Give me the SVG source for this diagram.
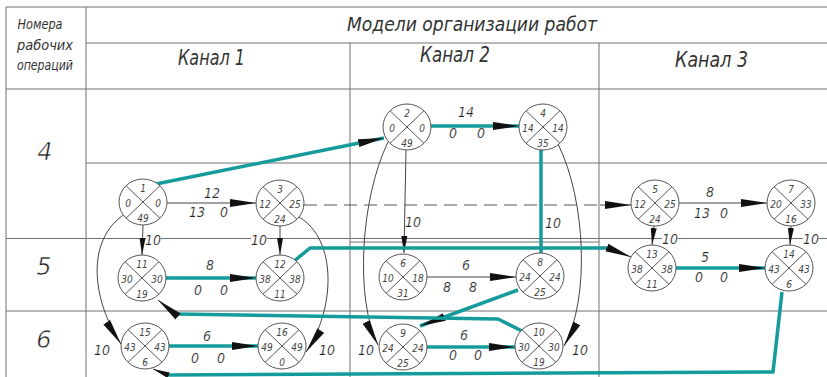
<svg xmlns="http://www.w3.org/2000/svg" width="827" height="377" viewBox="0 0 827 377">
<style>
text{font-family:"Liberation Sans Narrow","DejaVu Sans Condensed","Liberation Sans",sans-serif;font-style:italic;fill:#333}
.lt{font-family:"DejaVu Sans","Liberation Sans",sans-serif;font-weight:200}
.grid line{stroke:#707070;stroke-width:1}
.hd{font-size:14px}
.ttl{font-size:20px}
.ch{font-size:22px}
.row{font-size:24px;text-anchor:middle;fill:#222;stroke:#fff;stroke-width:0.6px}
.nd ellipse{fill:#fff;stroke:#555;stroke-width:1}
.nd line{stroke:#555;stroke-width:1}
.nd text{font-size:10px;text-anchor:middle;fill:#444}
.el{font-size:14px;text-anchor:middle;fill:#222;stroke:#fff;stroke-width:0.2px}
.gap{fill:#fff}
.thin{fill:none;stroke:#444;stroke-width:1}
.teal{fill:none;stroke:#159b9b;stroke-width:3.5;stroke-linejoin:round}
.dash{fill:none;stroke:#555;stroke-width:1;stroke-dasharray:13 7}
</style>
<defs>
<marker id="arr" markerUnits="userSpaceOnUse" markerWidth="28" markerHeight="10" refX="26" refY="4.5" orient="auto"><path d="M0,0.5 L26,4.5 L0,8.5 Z" fill="#111"/></marker>
<marker id="arrS" markerUnits="userSpaceOnUse" markerWidth="18" markerHeight="8" refX="17" refY="3.5" orient="auto"><path d="M0,0.5 L17,3.5 L0,6.5 Z" fill="#111"/></marker>
</defs>
<rect width="827" height="377" fill="#fff"/>
<g class="grid" id="grid">
<line x1="6" y1="7" x2="827" y2="7"/>
<line x1="6" y1="7" x2="6" y2="377"/>
<line x1="86" y1="7" x2="86" y2="377"/>
<line x1="86" y1="43" x2="827" y2="43"/>
<line x1="6" y1="89" x2="827" y2="89"/>
<line x1="350" y1="43" x2="350" y2="377"/>
<line x1="599" y1="43" x2="599" y2="377"/>
<line x1="86" y1="163" x2="827" y2="163"/>
<line x1="6" y1="238.5" x2="827" y2="238.5"/>
<line x1="350" y1="242" x2="599" y2="242"/>
<line x1="6" y1="311" x2="827" y2="311"/>
</g>
<g id="header">
<text class="hd lt" x="40" y="29" text-anchor="middle" textLength="45" lengthAdjust="spacingAndGlyphs">Номера</text>
<text class="hd lt" x="45" y="50" text-anchor="middle" textLength="56" lengthAdjust="spacingAndGlyphs">рабочих</text>
<text class="hd lt" x="45" y="70" text-anchor="middle" textLength="56" lengthAdjust="spacingAndGlyphs">операций</text>
<text class="ttl lt" x="347" y="31" textLength="250" lengthAdjust="spacingAndGlyphs">Модели организации работ</text>
<text class="ch lt" x="178" y="65" textLength="67" lengthAdjust="spacingAndGlyphs">Канал 1</text>
<text class="ch lt" x="420" y="62" textLength="70" lengthAdjust="spacingAndGlyphs">Канал 2</text>
<text class="ch lt" x="675" y="67" textLength="73" lengthAdjust="spacingAndGlyphs">Канал 3</text>
<text class="row lt" x="45" y="160">4</text>
<text class="row lt" x="44" y="275">5</text>
<text class="row lt" x="44" y="348">6</text>
</g>
<g id="connectors">
<path class="thin" d="M167,203 L256,203" marker-end="url(#arr)"/>
<path class="thin" d="M143,225 L142,255" marker-end="url(#arrS)"/>
<path class="thin" d="M280,226 L280,255" marker-end="url(#arrS)"/>
<path class="teal" d="M166,278 L256,278" marker-end="url(#arr)"/>
<path class="teal" d="M169,346 L258,346" marker-end="url(#arr)"/>
<path class="thin" d="M125,214 C85,240 92,300 121,344" marker-end="url(#arr)"/>
<path class="thin" d="M299,217 C338,240 335,310 306,352" marker-end="url(#arr)"/>
<path class="teal" d="M156,184 L384,138" marker-end="url(#arr)"/>
<path class="teal" d="M431,126 L519,126" marker-end="url(#arr)"/>
<path class="thin" d="M406,150 L404,253" marker-end="url(#arrS)"/>
<path class="thin" d="M388,142 C360,200 355,300 378,345" marker-end="url(#arr)"/>
<path class="teal" d="M541,150 L541,253"/>
<path class="thin" d="M558,144 C586,200 590,300 564,346" marker-end="url(#arr)"/>
<path class="thin" d="M427,277 L516,277" marker-end="url(#arr)"/>
<path class="teal" d="M518,290 L420,326" marker-end="url(#arr)"/>
<path class="teal" d="M427,347 L515,347" marker-end="url(#arr)"/>
<path class="teal" d="M522,331 L498,319 L175,314"/>
<path class="thin" d="M175,314 L158,300" marker-end="url(#arr)"/>
<path class="teal" d="M782,292 L773,372 L168,375"/>
<path class="thin" d="M168,375 L153,369" marker-end="url(#arrS)"/>
<path class="teal" d="M293,262 L310,248 L608,248"/>
<path class="thin" d="M608,248 L631,257" marker-end="url(#arr)"/>
<path class="dash" d="M304,205 L600,205"/>
<path class="thin" d="M600,205 L631,205" marker-end="url(#arr)"/>
<path class="thin" d="M679,203 L767,203" marker-end="url(#arr)"/>
<path class="thin" d="M654,226 L652,245" marker-end="url(#arrS)"/>
<path class="thin" d="M791,226 L790,245" marker-end="url(#arrS)"/>
<path class="teal" d="M676,268 L765,268" marker-end="url(#arr)"/>
</g>
<g id="edge-labels">
<rect class="gap" x="146" y="233" width="15" height="12"/>
<rect class="gap" x="251" y="233" width="16" height="12"/>
<rect class="gap" x="662" y="233" width="16" height="12"/>
<rect class="gap" x="803" y="233" width="16" height="12"/>
<text class="el" x="212" y="198">12</text><text class="el" x="197" y="217">13</text><text class="el" x="224" y="217">0</text>
<text class="el" x="210" y="270">8</text><text class="el" x="198" y="295">0</text><text class="el" x="224" y="295">0</text>
<text class="el" x="207" y="341">6</text><text class="el" x="195" y="363">0</text><text class="el" x="221" y="363">0</text>
<text class="el" x="466" y="117">14</text><text class="el" x="453" y="138">0</text><text class="el" x="481" y="138">0</text>
<text class="el" x="466" y="270">6</text><text class="el" x="447" y="292">8</text><text class="el" x="473" y="292">8</text>
<text class="el" x="464" y="340">6</text><text class="el" x="453" y="360">0</text><text class="el" x="478" y="360">0</text>
<text class="el" x="710" y="197">8</text><text class="el" x="702" y="218">13</text><text class="el" x="724" y="218">0</text>
<text class="el" x="705" y="262">5</text><text class="el" x="699" y="282">0</text><text class="el" x="724" y="282">0</text>
<text class="el" x="153" y="245">10</text>
<text class="el" x="259" y="245">10</text>
<text class="el" x="413" y="227">10</text>
<text class="el" x="553" y="228">10</text>
<text class="el" x="670" y="244">10</text>
<text class="el" x="811" y="244">10</text>
<text class="el" x="102" y="355">10</text>
<text class="el" x="327" y="355">10</text>
<text class="el" x="366" y="355">10</text>
<text class="el" x="580" y="355">10</text>
</g>
<g id="node-1" class="nd" transform="translate(143,202)"><ellipse rx="24" ry="23"/><line x1="-17" y1="-16.3" x2="17" y2="16.3"/><line x1="17" y1="-16.3" x2="-17" y2="16.3"/><text y="-10">1</text><text x="-15" y="4.5">0</text><text x="15" y="4.5">0</text><text y="20">49</text></g>
<g id="node-2" class="nd" transform="translate(407,127)"><ellipse rx="24" ry="23"/><line x1="-17" y1="-16.3" x2="17" y2="16.3"/><line x1="17" y1="-16.3" x2="-17" y2="16.3"/><text y="-10">2</text><text x="-15" y="4.5">0</text><text x="15" y="4.5">0</text><text y="20">49</text></g>
<g id="node-3" class="nd" transform="translate(280,203)"><ellipse rx="24" ry="23"/><line x1="-17" y1="-16.3" x2="17" y2="16.3"/><line x1="17" y1="-16.3" x2="-17" y2="16.3"/><text y="-10">3</text><text x="-15" y="4.5">12</text><text x="15" y="4.5">25</text><text y="20">24</text></g>
<g id="node-4" class="nd" transform="translate(543,127)"><ellipse rx="24" ry="23"/><line x1="-17" y1="-16.3" x2="17" y2="16.3"/><line x1="17" y1="-16.3" x2="-17" y2="16.3"/><text y="-10">4</text><text x="-15" y="4.5">14</text><text x="15" y="4.5">14</text><text y="20">35</text></g>
<g id="node-5" class="nd" transform="translate(655,203)"><ellipse rx="24" ry="23"/><line x1="-17" y1="-16.3" x2="17" y2="16.3"/><line x1="17" y1="-16.3" x2="-17" y2="16.3"/><text y="-10">5</text><text x="-15" y="4.5">12</text><text x="15" y="4.5">25</text><text y="20">24</text></g>
<g id="node-6" class="nd" transform="translate(403,277)"><ellipse rx="24" ry="23"/><line x1="-17" y1="-16.3" x2="17" y2="16.3"/><line x1="17" y1="-16.3" x2="-17" y2="16.3"/><text y="-10">6</text><text x="-15" y="4.5">10</text><text x="15" y="4.5">18</text><text y="20">31</text></g>
<g id="node-7" class="nd" transform="translate(791,203)"><ellipse rx="24" ry="23"/><line x1="-17" y1="-16.3" x2="17" y2="16.3"/><line x1="17" y1="-16.3" x2="-17" y2="16.3"/><text y="-10">7</text><text x="-15" y="4.5">20</text><text x="15" y="4.5">33</text><text y="20">16</text></g>
<g id="node-8" class="nd" transform="translate(540,276)"><ellipse rx="24" ry="23"/><line x1="-17" y1="-16.3" x2="17" y2="16.3"/><line x1="17" y1="-16.3" x2="-17" y2="16.3"/><text y="-10">8</text><text x="-15" y="4.5">24</text><text x="15" y="4.5">24</text><text y="20">25</text></g>
<g id="node-9" class="nd" transform="translate(403,347)"><ellipse rx="24" ry="23"/><line x1="-17" y1="-16.3" x2="17" y2="16.3"/><line x1="17" y1="-16.3" x2="-17" y2="16.3"/><text y="-10">9</text><text x="-15" y="4.5">24</text><text x="15" y="4.5">24</text><text y="20">25</text></g>
<g id="node-10" class="nd" transform="translate(539,346)"><ellipse rx="24" ry="23"/><line x1="-17" y1="-16.3" x2="17" y2="16.3"/><line x1="17" y1="-16.3" x2="-17" y2="16.3"/><text y="-10">10</text><text x="-15" y="4.5">30</text><text x="15" y="4.5">30</text><text y="20">19</text></g>
<g id="node-11" class="nd" transform="translate(142,278)"><ellipse rx="24" ry="23"/><line x1="-17" y1="-16.3" x2="17" y2="16.3"/><line x1="17" y1="-16.3" x2="-17" y2="16.3"/><text y="-10">11</text><text x="-15" y="4.5">30</text><text x="15" y="4.5">30</text><text y="20">19</text></g>
<g id="node-12" class="nd" transform="translate(280,278)"><ellipse rx="24" ry="23"/><line x1="-17" y1="-16.3" x2="17" y2="16.3"/><line x1="17" y1="-16.3" x2="-17" y2="16.3"/><text y="-10">12</text><text x="-15" y="4.5">38</text><text x="15" y="4.5">38</text><text y="20">11</text></g>
<g id="node-13" class="nd" transform="translate(652,268)"><ellipse rx="24" ry="23"/><line x1="-17" y1="-16.3" x2="17" y2="16.3"/><line x1="17" y1="-16.3" x2="-17" y2="16.3"/><text y="-10">13</text><text x="-15" y="4.5">38</text><text x="15" y="4.5">38</text><text y="20">11</text></g>
<g id="node-14" class="nd" transform="translate(789,268)"><ellipse rx="24" ry="23"/><line x1="-17" y1="-16.3" x2="17" y2="16.3"/><line x1="17" y1="-16.3" x2="-17" y2="16.3"/><text y="-10">14</text><text x="-15" y="4.5">43</text><text x="15" y="4.5">43</text><text y="20">6</text></g>
<g id="node-15" class="nd" transform="translate(145,346)"><ellipse rx="24" ry="23"/><line x1="-17" y1="-16.3" x2="17" y2="16.3"/><line x1="17" y1="-16.3" x2="-17" y2="16.3"/><text y="-10">15</text><text x="-15" y="4.5">43</text><text x="15" y="4.5">43</text><text y="20">6</text></g>
<g id="node-16" class="nd" transform="translate(282,346)"><ellipse rx="24" ry="23"/><line x1="-17" y1="-16.3" x2="17" y2="16.3"/><line x1="17" y1="-16.3" x2="-17" y2="16.3"/><text y="-10">16</text><text x="-15" y="4.5">49</text><text x="15" y="4.5">49</text><text y="20">0</text></g>
</svg>
